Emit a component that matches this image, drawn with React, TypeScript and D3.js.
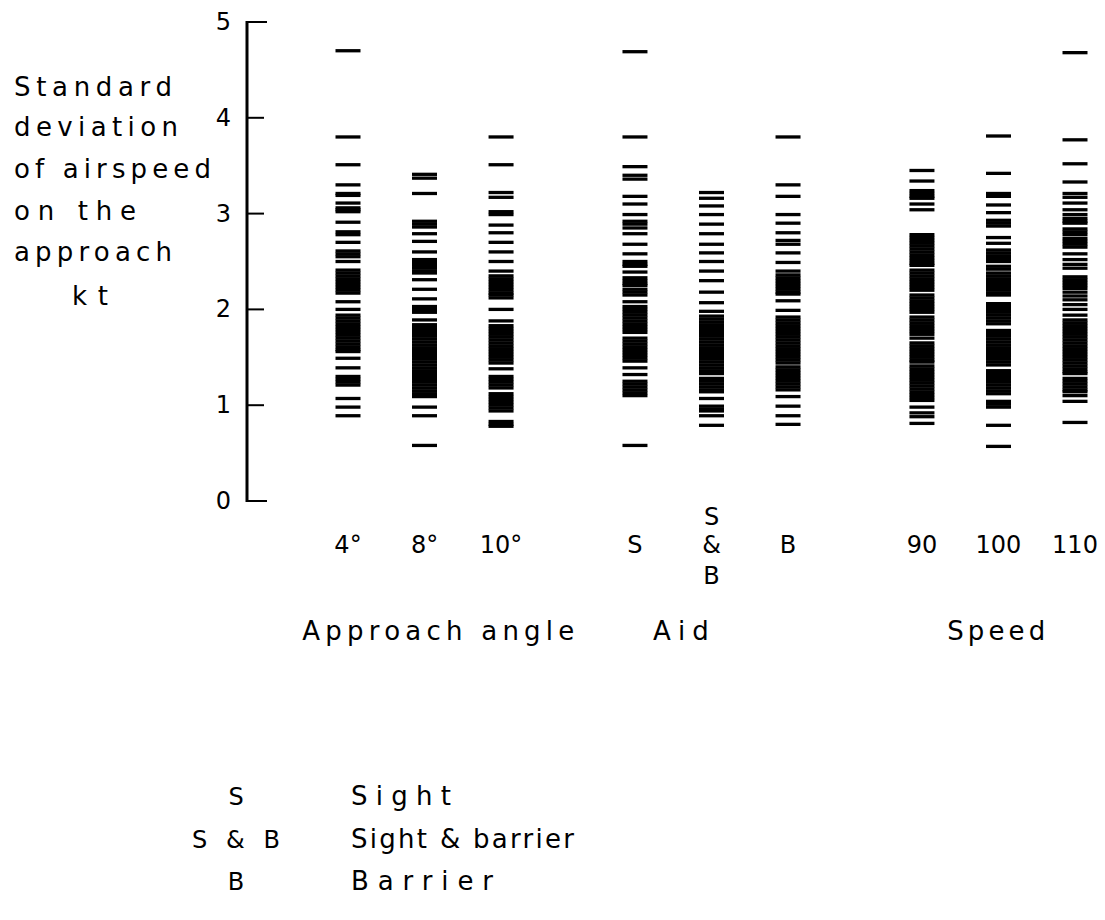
import * as d3 from 'd3';

// column labels, left to right
const categories = ['4°', '8°', '10°', 'S', 'S&B', 'B', '90', '100', '110'];

const angle4 = [4.70, 3.80, 3.51, 3.30, 3.21, 3.19, 3.11, 3.06, 3.04, 3.02, 2.91, 2.81, 2.78, 2.70, 2.61, 2.58, 2.55, 2.50,
  2.41, 2.38, 2.35, 2.32, 2.29, 2.26, 2.23, 2.20, 2.17, 2.08, 2.00, 1.94, 1.91, 1.88, 1.85, 1.82, 1.79, 1.76, 1.73, 1.70,
  1.67, 1.64, 1.61, 1.58, 1.56, 1.49, 1.39, 1.30, 1.27, 1.24, 1.21, 1.07, 0.98, 0.89];
const angle8 = [3.41, 3.37, 3.21, 2.92, 2.89, 2.86, 2.79, 2.71, 2.60, 2.52, 2.49, 2.46, 2.43, 2.40, 2.38, 2.31, 2.21, 2.11,
  2.03, 2.00, 1.97, 1.89, 1.84, 1.81, 1.78, 1.75, 1.72, 1.69, 1.66, 1.63, 1.60, 1.57, 1.54, 1.51, 1.48, 1.45, 1.42, 1.39,
  1.36, 1.33, 1.30, 1.27, 1.24, 1.21, 1.18, 1.15, 1.12, 1.09, 0.98, 0.89, 0.58];
const angle10 = [3.80, 3.51, 3.22, 3.17, 3.02, 2.99, 2.88, 2.80, 2.70, 2.60, 2.50, 2.40, 2.35, 2.32, 2.29, 2.26, 2.23, 2.20,
  2.17, 2.15, 2.12, 2.00, 1.88, 1.83, 1.80, 1.77, 1.74, 1.71, 1.68, 1.65, 1.62, 1.59, 1.56, 1.53, 1.50, 1.47, 1.44, 1.38,
  1.30, 1.27, 1.24, 1.21, 1.18, 1.12, 1.09, 1.06, 1.03, 1.00, 0.97, 0.94, 0.83, 0.80, 0.78];
const aidS = [4.69, 3.80, 3.49, 3.40, 3.36, 3.18, 3.10, 2.99, 2.92, 2.89, 2.85, 2.79, 2.68, 2.58, 2.50, 2.47, 2.45, 2.39,
  2.33, 2.30, 2.27, 2.25, 2.21, 2.18, 2.15, 2.08, 2.03, 2.00, 1.97, 1.94, 1.91, 1.88, 1.85, 1.82, 1.79, 1.76, 1.70, 1.67,
  1.64, 1.61, 1.58, 1.55, 1.52, 1.49, 1.46, 1.39, 1.32, 1.25, 1.22, 1.19, 1.16, 1.13, 1.10, 0.58];
const aidSB = [3.22, 3.16, 3.08, 2.99, 2.89, 2.79, 2.68, 2.59, 2.50, 2.40, 2.30, 2.18, 2.07, 1.98, 1.93, 1.90, 1.87, 1.84,
  1.81, 1.78, 1.75, 1.72, 1.69, 1.66, 1.63, 1.60, 1.57, 1.54, 1.51, 1.48, 1.45, 1.42, 1.39, 1.36, 1.33, 1.28, 1.25, 1.22,
  1.19, 1.16, 1.14, 1.07, 0.99, 0.96, 0.94, 0.89, 0.79];
const aidB = [3.80, 3.30, 3.18, 2.99, 2.90, 2.80, 2.72, 2.68, 2.59, 2.49, 2.40, 2.36, 2.33, 2.30, 2.27, 2.24, 2.21, 2.18,
  2.16, 2.09, 1.99, 1.92, 1.89, 1.86, 1.83, 1.80, 1.77, 1.74, 1.71, 1.68, 1.65, 1.62, 1.59, 1.56, 1.53, 1.50, 1.47, 1.44,
  1.40, 1.37, 1.34, 1.31, 1.28, 1.25, 1.22, 1.19, 1.16, 1.09, 0.99, 0.89, 0.80];
const speed90 = [3.45, 3.34, 3.24, 3.21, 3.18, 3.16, 3.10, 3.04, 2.78, 2.75, 2.72, 2.69, 2.66, 2.63, 2.60, 2.57, 2.54, 2.51,
  2.48, 2.46, 2.41, 2.38, 2.35, 2.32, 2.29, 2.26, 2.23, 2.20, 2.15, 2.12, 2.09, 2.06, 2.03, 2.00, 1.97, 1.92, 1.89, 1.86,
  1.83, 1.80, 1.77, 1.74, 1.70, 1.65, 1.62, 1.59, 1.56, 1.53, 1.50, 1.47, 1.45, 1.41, 1.38, 1.35, 1.32, 1.29, 1.26, 1.23,
  1.20, 1.17, 1.14, 1.11, 1.08, 1.05, 0.98, 0.92, 0.88, 0.81];
const speed100 = [3.81, 3.42, 3.21, 3.18, 3.09, 3.01, 2.93, 2.90, 2.87, 2.75, 2.69, 2.62, 2.59, 2.56, 2.53, 2.50, 2.45, 2.42,
  2.38, 2.35, 2.32, 2.29, 2.26, 2.23, 2.20, 2.17, 2.15, 2.06, 2.03, 2.00, 1.97, 1.94, 1.91, 1.88, 1.85, 1.78, 1.75, 1.72,
  1.69, 1.66, 1.63, 1.60, 1.57, 1.54, 1.51, 1.48, 1.45, 1.42, 1.36, 1.33, 1.30, 1.27, 1.24, 1.21, 1.18, 1.15, 1.12, 1.04,
  1.01, 0.98, 0.79, 0.57];
const speed110 = [4.68, 3.77, 3.52, 3.33, 3.21, 3.17, 3.11, 3.04, 2.99, 2.95, 2.92, 2.90, 2.84, 2.81, 2.78, 2.74, 2.71, 2.68,
  2.65, 2.58, 2.52, 2.47, 2.43, 2.34, 2.31, 2.28, 2.25, 2.22, 2.18, 2.14, 2.10, 2.05, 2.00, 1.94, 1.89, 1.86, 1.83, 1.80,
  1.77, 1.74, 1.71, 1.68, 1.65, 1.62, 1.59, 1.56, 1.53, 1.50, 1.47, 1.44, 1.41, 1.38, 1.35, 1.33, 1.28, 1.25, 1.22, 1.19,
  1.16, 1.14, 1.10, 1.04, 0.82];

const seriesValues = [angle4, angle8, angle10, aidS, aidSB, aidB, speed90, speed100, speed110];

const yTicks = [0, 1, 2, 3, 4, 5];
const groupTitles = ['Approach angle', 'Aid', 'Speed'];
const yTitleLines = ['Standard', 'deviation', 'of airspeed', 'on the', 'approach', 'kt'];
const legendKeys = ['S', 'S & B', 'B'];
const legendNames = ['Sight', 'Sight & barrier', 'Barrier'];

const W = 1105;
const H = 920;
const FONT = '"DejaVu Sans", sans-serif';

// slot of each column along the x axis (groups separated by a wider gap)
const slots = [0, 1, 2, 3.75, 4.75, 5.75, 7.5, 8.5, 9.5];
const groupSlots = [1.18, 4.35, 8.47];
const groupWidths = [272, 56, 98];

const x = d3.scaleLinear().domain([0, 9.5]).range([348, 1075]);
const y = d3.scaleLinear().domain([0, 5]).range([501, 22]);

const dashW = 25;
const axisX = 247;

// y title layout
const yTitleX = [14, 14, 14, 14, 14, 72];
const yTitleW = [158, 164, 197, 122, 158, 36];
const yTitleBase = [96, 136, 178, 220, 261, 305];

const legendKeyW = [0, 88, 0];
const legendW = [100, 223, 142];
const legendBase = [805, 848, 890];

export default function App() {
  return (
    <div style={{ position: 'absolute', left: 0, top: 0, width: W, height: H, overflow: 'hidden', background: '#fff' }}>
      <svg width={W} height={H} style={{ display: 'block' }} fontFamily={FONT} fill="#000">
        {/* y axis */}
        <line x1={axisX} x2={axisX} y1={y(5) - 1} y2={y(0) + 1} stroke="#000" strokeWidth={3} />
        {yTicks.map((t) => (
          <g key={t}>
            <line
              x1={axisX}
              x2={axisX + (t === 0 || t === 5 ? 20 : 17)}
              y1={y(t)}
              y2={y(t)}
              stroke="#000"
              strokeWidth={2}
            />
            <text x={231} y={y(t) + 8} fontSize={24} textAnchor="end">
              {t}
            </text>
          </g>
        ))}

        {/* y title */}
        {yTitleLines.map((s, i) => (
          <text
            key={s}
            x={yTitleX[i]}
            y={yTitleBase[i]}
            fontSize={26}
            textLength={yTitleW[i]}
            lengthAdjust="spacing"
          >
            {s}
          </text>
        ))}

        {/* dashes */}
        {seriesValues.map((vals, ci) => (
          <g key={categories[ci]}>
            {vals.map((v, k) => (
              <line
                key={k}
                x1={x(slots[ci]) - dashW / 2}
                x2={x(slots[ci]) + dashW / 2}
                y1={y(v)}
                y2={y(v)}
                stroke="#000"
                strokeWidth={3.3}
              />
            ))}
          </g>
        ))}

        {/* column labels */}
        {categories.map((c, ci) =>
          c === 'S&B' ? (
            <g key={c}>
              {['S', '&', 'B'].map((s, j) => (
                <text key={j} x={x(slots[ci])} y={[525, 553, 584][j]} fontSize={24} textAnchor="middle">
                  {s}
                </text>
              ))}
            </g>
          ) : (
            <text key={c} x={x(slots[ci])} y={553} fontSize={24} textAnchor="middle">
              {c}
            </text>
          )
        )}

        {/* group titles */}
        {groupTitles.map((g, i) => (
          <text
            key={g}
            x={x(groupSlots[i]) - groupWidths[i] / 2}
            y={640}
            fontSize={26}
            textLength={groupWidths[i]}
            lengthAdjust="spacing"
          >
            {g}
          </text>
        ))}

        {/* key */}
        {legendKeys.map((k, i) => (
          <g key={k}>
            {legendKeyW[i] > 0 ? (
              <text x={236 - legendKeyW[i] / 2} y={legendBase[i]} fontSize={24} textLength={legendKeyW[i]} lengthAdjust="spacing">
                {k}
              </text>
            ) : (
              <text x={236} y={legendBase[i]} fontSize={24} textAnchor="middle">
                {k}
              </text>
            )}
            <text x={351} y={legendBase[i]} fontSize={26} textLength={legendW[i]} lengthAdjust="spacing">
              {legendNames[i]}
            </text>
          </g>
        ))}
      </svg>
    </div>
  );
}
